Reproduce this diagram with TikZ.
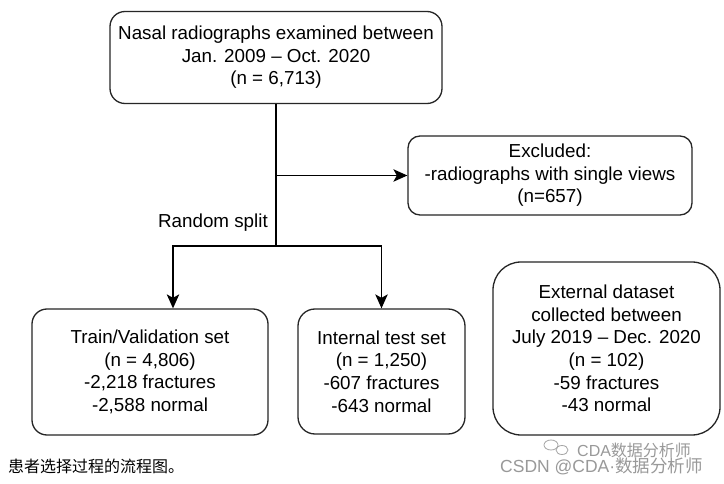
\documentclass[tikz,border=0pt]{standalone}
\usepackage{fontspec}
\setmainfont{Liberation Sans}
\newfontfamily\cjk{Noto Sans CJK SC}
\usetikzlibrary{arrows.meta}
\begin{document}
\begin{tikzpicture}[x=1pt,y=-1pt,
  box/.style={draw=black!85, line width=1.3pt, rounded corners=15pt, align=center, inner sep=0pt, font=\fontsize{18.8}{22.6}\selectfont},
  arr/.style={line width=1.3pt, -{Stealth[length=14pt,width=12.5pt,inset=3.5pt]}},
  ln/.style={line width=1.3pt},
  wm/.style={anchor=west, inner sep=0pt, text=black!40}]
\useasboundingbox[fill=white] (0,0) rectangle (724,484);
\node[box, minimum width=332pt, minimum height=92pt] (top) at (276,57.5) {Nasal radiographs examined between\\Jan. 2009 – Oct. 2020\\(n = 6,713)};
\node[box, rounded corners=12pt, minimum width=284pt, minimum height=79pt] (excl) at (550,175.5) {Excluded:\\-radiographs with single views\\(n=657)};
\node[box, minimum width=236pt, minimum height=126pt] (train) at (150,372) {Train/Validation set\\(n = 4,806)\\-2,218 fractures\\-2,588 normal};
\node[box, rounded corners=17pt, minimum width=167pt, minimum height=125pt] (inner) at (381.5,371.5) {Internal test set\\(n = 1,250)\\-607 fractures\\-643 normal};
\node[box, rounded corners=28pt, minimum width=227pt, minimum height=173pt] (ext) at (606.5,348.5) {External dataset\\collected between\\July 2019 – Dec. 2020\\(n = 102)\\-59 fractures\\-43 normal};
\coordinate (sp) at (276,246);
\draw[ln] (top.south) -- (sp);
\draw[arr] (top.south |- excl.west) -- (excl.west);
\coordinate (aL) at (173,246);
\coordinate (aR) at (inner.north |- sp);
\draw[arr] (sp) -- (aL) -- (aL |- train.north);
\draw[arr] (sp) -- (aR) -- (inner.north);
\node[anchor=base east, inner sep=0pt, font=\fontsize{18.8}{22.6}\selectfont] (rs) at (268,228) {Random split};
\node[anchor=west, inner sep=0pt, font=\cjk\fontsize{16}{18}\selectfont] (cap) at (8,466) {患者选择过程的流程图。};
\node[wm, font=\fontsize{16}{18}\selectfont] (wm1) at (577,450) {CDA{\cjk 数据分析师}};
\node[wm, font=\fontsize{17.5}{19}\selectfont] (wm2) at (500,466) {CSDN @CDA·{\cjk 数据分析师}};
\draw[black!35, line width=0.8pt] (551,445) ellipse [x radius=7pt, y radius=5pt];
\draw[black!35, line width=0.8pt] (562,450) ellipse [x radius=6pt, y radius=4.5pt];
\end{tikzpicture}
\end{document}
